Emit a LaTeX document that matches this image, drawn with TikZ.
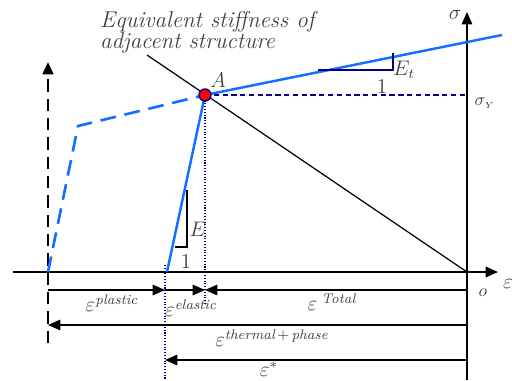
\documentclass[tikz,border=0pt]{standalone}
\usepackage{amsmath}
\usepackage{amssymb}
\usetikzlibrary{arrows.meta,positioning}
\definecolor{curveblue}{RGB}{20,110,255}
\definecolor{guidenavy}{RGB}{0,0,140}

\begin{document}
\begin{tikzpicture}[x=0.02cm, y=-0.02cm, >={Triangle[length=7pt,width=6pt]},
  curve/.style={curveblue, line width=1.4pt},
  guide/.style={guidenavy, densely dotted, line width=0.6pt},
  dimline/.style={->, line width=0.7pt},
  lbl/.style={text=black!75, inner sep=1pt}]
\path[use as bounding box] (0,0) rectangle (512,380);
% key points
\coordinate (O) at (467,272);
\coordinate (A) at (205,95);
\coordinate (P0) at (48,272);
\coordinate (Pk) at (78,126);
\coordinate (U0) at (167,272);
\coordinate (Uend) at (502,35);
\coordinate (Kbeg) at (147,55);
% axes
\draw[->, line width=0.8pt] (467,380) -- (467,12) coordinate (sigtop);
\draw[->, line width=0.8pt] (13,272) -- (498,272) coordinate (epsend);
\draw[->, line width=1.6pt, dash pattern=on 7pt off 4pt] (48,343) -- (48,62);
% stiffness line and curves
\draw[line width=0.7pt] (Kbeg) -- (O);
\draw[curveblue, line width=1.5pt, dash pattern=on 9pt off 5pt] (P0) -- (Pk) -- (A);
\draw[curve] (U0) -- (A) -- (Uend);
\draw[guidenavy, line width=1pt, dash pattern=on 3pt off 2pt] (A) -- (467,95);
\draw[guide] (A) -- (205,305);
\draw[guide] (165,265) -- (165,380);
\draw[guidenavy, fill=red, line width=0.8pt] (A) circle (6);
% slope triangles
\draw[guidenavy, line width=0.6pt] (318,70) -- (393,70) -- (393,53);
\draw[line width=0.6pt] (175,247) -- (187,247) -- (187,190);
% dimension arrows
\draw[dimline] (48,290) -- (165,290);
\draw[dimline] (165,290) -- (205,290);
\draw[dimline] (467,290) -- (205,290);
\draw[dimline] (467,325) -- (48,325);
\draw[dimline] (467,360) -- (165,360);
% labels
\node[lbl, align=left, anchor=north west, font=\fontsize{13}{14}\selectfont\itshape] (title) at (98,9)
  {Equivalent stiffness of\\[-2pt] adjacent structure};
\node[lbl, font=\large] (lsig) at (455,15) {$\sigma$};
\node[lbl, font=\large] (leps) at (508,284) {$\varepsilon$};
\node[lbl] (lO) at (483,293) {$o$};
\node[lbl] (lsy) at (485,103) {$\sigma_{\scriptscriptstyle Y}$};
\node[lbl, font=\large] (lA) at (218,80) {$A$};
\node[lbl, font=\large] (lEt) at (404,70) {$E_t$};
\node[lbl, font=\large] (lone1) at (382,87) {$1$};
\node[lbl, font=\large] (lE) at (198,229) {$E$};
\node[lbl, font=\large] (lone2) at (186,262) {$1$};
\node[lbl, font=\large] (lpl) at (112,303) {$\varepsilon^{\textit{plastic}}$};
\node[lbl, font=\large] (lel) at (191,308) {$\varepsilon^{\textit{elastic}}$};
\node[lbl, font=\large] (ltot) at (332,302) {$\varepsilon^{\;\textit{Total}}$};
\node[lbl, font=\large] (lth) at (272,338) {$\varepsilon^{\textit{thermal}\,+\,\textit{phase}}$};
\node[lbl, font=\large] (lst) at (269,369) {$\varepsilon^{*}$};
\end{tikzpicture}
\end{document}
